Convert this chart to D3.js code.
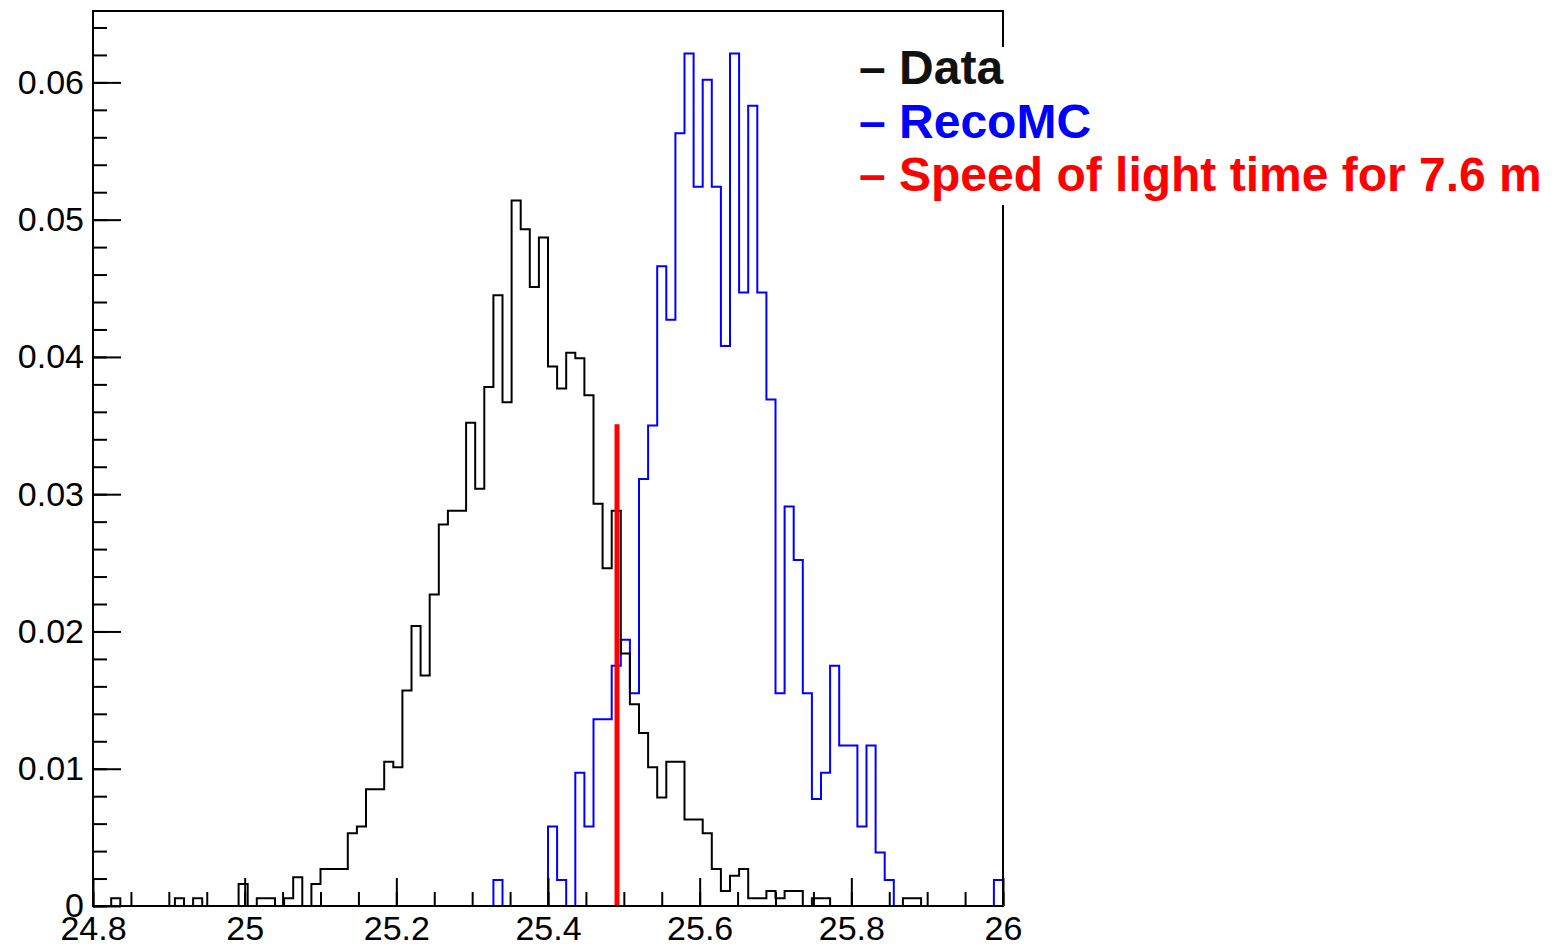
<!DOCTYPE html>
<html>
<head>
<meta charset="utf-8">
<script src="https://cdn.jsdelivr.net/npm/d3@7"></script>
<style>
  html, body { margin: 0; padding: 0; background: #fff; }
  svg { display: block; }
  text { font-family: "Liberation Sans", Arial, Helvetica, sans-serif; }
</style>
</head>
<body>
<svg id="chart" width="1556" height="948"></svg>
<script>
// Binning of the arrival-time histograms (ns)
const binLow = 24.8, binHigh = 26.0, binCount = 100;

// Normalised bin contents, data
const dataValues = [
  0, 0, 0.00056, 0, 0, 0, 0, 0, 0, 0.00056,
  0, 0.00056, 0, 0, 0, 0, 0.0016, 0, 0.00056, 0.00056,
  0, 0.00056, 0.0021, 0, 0.0016, 0.0027, 0.0027, 0.0027, 0.0053, 0.0058,
  0.0085, 0.0085, 0.0105, 0.0101, 0.0157, 0.0204, 0.0168, 0.0227, 0.0278, 0.0288,
  0.0288, 0.0352, 0.0304, 0.0378, 0.0445, 0.0367, 0.0514, 0.0493, 0.0451, 0.0487,
  0.0393, 0.0377, 0.0403, 0.0399, 0.0372, 0.0293, 0.0246, 0.0288, 0.0184, 0.0147,
  0.0126, 0.0101, 0.0079, 0.0105, 0.0105, 0.0063, 0.0063, 0.0053, 0.0027, 0.0011,
  0.0022, 0.0027, 0.00056, 0.00056, 0.0011, 0.00056, 0.0011, 0.0011, 0, 0.00056,
  0.00056, 0, 0, 0, 0, 0, 0, 0, 0, 0.00056,
  0.00056, 0, 0, 0, 0, 0, 0, 0, 0, 0
];

// Normalised bin contents, reconstructed MC
const recoMCValues = [
  0, 0, 0, 0, 0, 0, 0, 0, 0, 0,
  0, 0, 0, 0, 0, 0, 0, 0, 0, 0,
  0, 0, 0, 0, 0, 0, 0, 0, 0, 0,
  0, 0, 0, 0, 0, 0, 0, 0, 0, 0,
  0, 0, 0, 0, 0.0019, 0, 0, 0, 0, 0,
  0.0058, 0.0019, 0, 0.0097, 0.0058, 0.0136, 0.0136, 0.0175, 0.0194, 0.0155,
  0.0311, 0.0350, 0.0466, 0.0427, 0.0563, 0.0621, 0.0524, 0.0602, 0.0524, 0.0408,
  0.0621, 0.0447, 0.0583, 0.0447, 0.0369, 0.0155, 0.0291, 0.0252, 0.0155, 0.0078,
  0.0097, 0.0175, 0.0117, 0.0117, 0.0058, 0.0117, 0.0039, 0.0019, 0, 0,
  0, 0, 0, 0, 0, 0, 0, 0, 0, 0.0019
];

// Light travel time marker
const lightTime = 25.491;
const lightMarkerTop = 0.0351;

// Axis ticks and labels
const xMajorTicks = [24.8, 25.0, 25.2, 25.4, 25.6, 25.8, 26.0];
const xTickLabels = ["24.8", "25", "25.2", "25.4", "25.6", "25.8", "26"];
const yMajorTicks = [0, 0.01, 0.02, 0.03, 0.04, 0.05, 0.06];
const yTickLabels = ["0", "0.01", "0.02", "0.03", "0.04", "0.05", "0.06"];
const yMax = 0.0652;

// Legend
const legendLabels = ["\u2013 Data", "\u2013 RecoMC", "\u2013 Speed of light time for 7.6 m"];
const legendColors = ["#111111", "#0000ff", "#ff0000"];

// ---- layout ----
const frame = { left: 93, right: 1003, top: 11, bottom: 906 };

const svg = d3.select("#chart");
svg.append("rect").attr("width", 1556).attr("height", 948).attr("fill", "#fff");

const x = d3.scaleLinear().domain([binLow, binHigh]).range([frame.left, frame.right]);
const y = d3.scaleLinear().domain([0, yMax]).range([frame.bottom, frame.top]);

const binWidth = (binHigh - binLow) / binCount;

function stepOutline(values) {
  const pts = [[binLow, 0]];
  values.forEach((v, i) => {
    const lo = binLow + i * binWidth;
    pts.push([lo, v], [lo + binWidth, v]);
  });
  pts.push([binHigh, 0]);
  return pts;
}

const line = d3.line().x(d => x(d[0])).y(d => y(d[1]));

// histograms: MC first, data over it
svg.append("path")
  .attr("d", line(stepOutline(recoMCValues)))
  .attr("fill", "none").attr("stroke", "#0000ff").attr("stroke-width", 2)
  .attr("stroke-linejoin", "miter");

svg.append("path")
  .attr("d", line(stepOutline(dataValues)))
  .attr("fill", "none").attr("stroke", "#000").attr("stroke-width", 2)
  .attr("stroke-linejoin", "miter");

// light-time marker
svg.append("line")
  .attr("x1", x(lightTime)).attr("x2", x(lightTime))
  .attr("y1", y(0)).attr("y2", y(lightMarkerTop))
  .attr("stroke", "#ff0000").attr("stroke-width", 5);

// ---- axes ----
const xMinor = d3.range(0, 25).map(i => +(binLow + i * 0.05).toFixed(2));
const yMinor = d3.range(0, 33).map(i => +(i * 0.002).toFixed(3));

function styleAxis(g) {
  g.select(".domain").remove();
  g.selectAll(".tick line").attr("stroke", "#000").attr("stroke-width", 2);
  g.selectAll(".tick text").attr("fill", "#000").style("font-size", "34px");
}

svg.append("g")
  .attr("transform", `translate(0,${frame.bottom})`)
  .call(d3.axisBottom(x).tickValues(xMinor).tickSize(-14).tickFormat(""))
  .call(styleAxis);

svg.append("g")
  .attr("transform", `translate(0,${frame.bottom})`)
  .call(d3.axisBottom(x).tickValues(xMajorTicks).tickSize(-28).tickPadding(10)
    .tickFormat((d, i) => xTickLabels[i]))
  .call(styleAxis);

svg.append("g")
  .attr("transform", `translate(${frame.left},0)`)
  .call(d3.axisLeft(y).tickValues(yMinor).tickSize(-14).tickFormat(""))
  .call(styleAxis);

svg.append("g")
  .attr("transform", `translate(${frame.left},0)`)
  .call(d3.axisLeft(y).tickValues(yMajorTicks).tickSize(-28).tickPadding(9)
    .tickFormat((d, i) => yTickLabels[i]))
  .call(styleAxis);

// frame
svg.append("rect")
  .attr("x", frame.left).attr("y", frame.top)
  .attr("width", frame.right - frame.left).attr("height", frame.bottom - frame.top)
  .attr("fill", "none").attr("stroke", "#000").attr("stroke-width", 2);

// ---- legend ----
svg.append("rect")
  .attr("x", 855).attr("y", 47).attr("width", 700).attr("height", 158)
  .attr("fill", "#fff");

const legend = svg.append("g");
legendLabels.forEach((t, i) => {
  legend.append("text")
    .attr("x", 859).attr("y", 84 + i * 53.5)
    .attr("fill", legendColors[i])
    .style("font-size", "48px").style("font-weight", "bold")
    .text(t);
});
</script>
</body>
</html>
